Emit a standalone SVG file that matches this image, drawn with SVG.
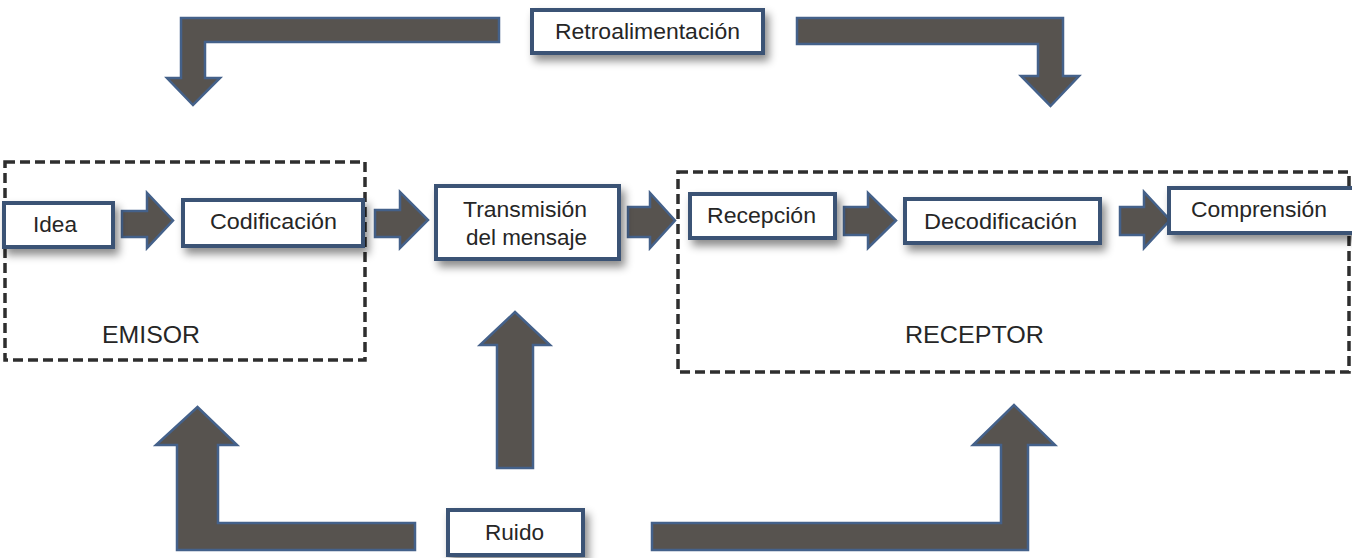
<svg xmlns="http://www.w3.org/2000/svg" width="1352" height="558" viewBox="0 0 1352 558">
  <defs>
    <filter id="shadow" x="-20%" y="-30%" width="150%" height="180%">
      <feDropShadow dx="4" dy="6" stdDeviation="4" flood-color="#000" flood-opacity="0.45"/>
    </filter>
    <style>
      .box { fill: #ffffff; stroke: #3a5274; stroke-width: 4; filter: url(#shadow); }
      .group { fill: none; stroke: #2e2e2e; stroke-width: 3.5; stroke-dasharray: 10 5; }
      .arrow { fill: #57534f; stroke: #44618a; stroke-width: 2.5; stroke-linejoin: miter; }
      .lbl { font-family: "Liberation Sans", Arial, sans-serif; font-size: 22px; fill: #262626; }
      .big { font-size: 24px; }
    </style>
  </defs>
  <rect width="1352" height="558" fill="#ffffff"/>

  <!-- sender / receiver groupings -->
  <g id="emisor">
    <rect class="group" x="5" y="162" width="360" height="198"/>
    <text class="lbl big" x="102" y="343" textLength="98" lengthAdjust="spacingAndGlyphs">EMISOR</text>
  </g>
  <g id="receptor">
    <rect class="group" x="678" y="172" width="671" height="200"/>
    <text class="lbl big" x="905" y="343" textLength="139" lengthAdjust="spacingAndGlyphs">RECEPTOR</text>
  </g>

  <!-- block arrows -->
  <g id="connectors">
    <!-- main flow -->
    <path class="arrow" d="M122 211 H147 V193 L173 220.5 L147 248 V237 H122 Z"/>
    <path class="arrow" d="M375 210 H400 V192 L428 220 L400 248 V237 H375 Z"/>
    <path class="arrow" d="M628 207 H650 V193 L675 220.5 L650 248 V237 H628 Z"/>
    <path class="arrow" d="M844 207 H868 V193 L896 220.5 L868 248 V235 H844 Z"/>
    <path class="arrow" d="M1120 207 H1144 V192 L1170 220 L1144 248 V235 H1120 Z"/>
    <!-- feedback -->
    <path class="arrow" d="M499 18 H181 V78 H167 L193 105 L220 78 H205 V42 H499 Z"/>
    <path class="arrow" d="M797 18 H1063 V76 H1079 L1050.5 106 L1021 76 H1038 V44 H797 Z"/>
    <!-- noise -->
    <path class="arrow" d="M415 523 H218 V445 H237 L197.5 407 L156 445 H177 V550 H415 Z"/>
    <path class="arrow" d="M497 468 V345 H480 L515 312 L550 345 H533 V468 Z"/>
    <path class="arrow" d="M652 523 H1001 V445 H973 L1014 405 L1055 445 H1028 V550 H652 Z"/>
  </g>

  <!-- nodes -->
  <g id="idea">
    <rect class="box" x="4" y="203" width="109" height="44"/>
    <text class="lbl" x="33" y="232" textLength="44" lengthAdjust="spacingAndGlyphs">Idea</text>
  </g>
  <g id="codificacion">
    <rect class="box" x="183" y="200" width="180" height="46"/>
    <text class="lbl" x="210" y="229" textLength="127" lengthAdjust="spacingAndGlyphs">Codificación</text>
  </g>
  <g id="transmision">
    <rect class="box" x="436" y="186" width="183" height="73"/>
    <text class="lbl" x="463" y="217" textLength="124" lengthAdjust="spacingAndGlyphs">Transmisión</text>
    <text class="lbl" x="466" y="245" textLength="121" lengthAdjust="spacingAndGlyphs">del mensaje</text>
  </g>
  <g id="recepcion">
    <rect class="box" x="690" y="194" width="145" height="44"/>
    <text class="lbl" x="707" y="223" textLength="109" lengthAdjust="spacingAndGlyphs">Recepción</text>
  </g>
  <g id="decodificacion">
    <rect class="box" x="905" y="199" width="195" height="44"/>
    <text class="lbl" x="924" y="229" textLength="153" lengthAdjust="spacingAndGlyphs">Decodificación</text>
  </g>
  <g id="comprension">
    <rect class="box" x="1169" y="188" width="186" height="45"/>
    <text class="lbl" x="1191" y="217" textLength="136" lengthAdjust="spacingAndGlyphs">Comprensión</text>
  </g>
  <g id="retroalimentacion">
    <rect class="box" x="532" y="10" width="231" height="43"/>
    <text class="lbl" x="555" y="39" textLength="185" lengthAdjust="spacingAndGlyphs">Retroalimentación</text>
  </g>
  <g id="ruido">
    <rect class="box" x="448" y="510" width="135" height="45"/>
    <text class="lbl" x="485" y="540" textLength="59" lengthAdjust="spacingAndGlyphs">Ruido</text>
  </g>
</svg>
